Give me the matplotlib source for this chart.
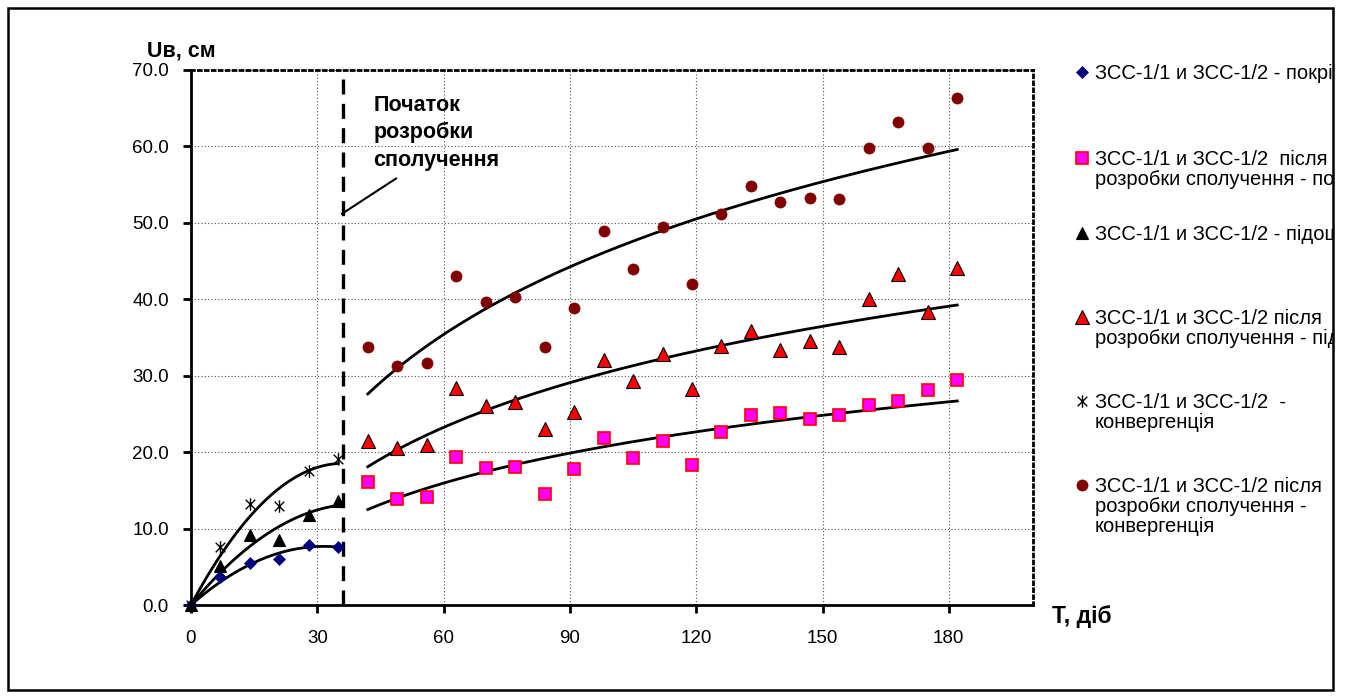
import numpy as np
import matplotlib.pyplot as plt
from matplotlib.lines import Line2D
from matplotlib.patches import Rectangle
from matplotlib.path import Path

plt.rcParams['font.family'] = ['Liberation Sans', 'DejaVu Sans']

# data (days, cm)
days_early = [0, 7, 14, 21, 28, 35]
roof_early = [0, 3.6, 5.5, 6.0, 7.9, 7.6]
floor_early = [0, 5.1, 9.1, 8.5, 11.8, 13.6]
conv_early = [0, 7.6, 13.2, 13.0, 17.5, 19.1]

days_late = [42, 49, 56, 63, 70, 77, 84, 91, 98, 105, 112, 119, 126, 133,
             140, 147, 154, 161, 168, 175, 182]
roof_late = [16.1, 13.9, 14.1, 19.4, 17.9, 18.1, 14.5, 17.8, 21.8, 19.2, 21.5,
             18.3, 22.7, 24.8, 25.1, 24.4, 24.8, 26.2, 26.7, 28.1, 29.5]
floor_late = [21.4, 20.6, 21.0, 28.4, 26.1, 26.5, 23.0, 25.3, 32.1, 29.3, 32.9,
              28.3, 33.9, 35.9, 33.3, 34.5, 33.7, 40.0, 43.3, 38.3, 44.1]
conv_late = [33.8, 31.3, 31.6, 43.1, 39.6, 40.3, 33.8, 38.9, 48.9, 44.0, 49.4,
             42.0, 51.2, 54.8, 52.7, 53.3, 53.1, 59.8, 63.2, 59.8, 66.4]

start_day = 36
x_ticks = [0, 30, 60, 90, 120, 150, 180]
y_ticks = [0, 10, 20, 30, 40, 50, 60, 70]

legend_labels = [
    'ЗСС-1/1 и ЗСС-1/2 - покрівля',
    'ЗСС-1/1 и ЗСС-1/2  після\nрозробки сполучення - покрівля',
    'ЗСС-1/1 и ЗСС-1/2 - підошва',
    'ЗСС-1/1 и ЗСС-1/2 після\nрозробки сполучення - підошва',
    'ЗСС-1/1 и ЗСС-1/2  -\nконвергенція',
    'ЗСС-1/1 и ЗСС-1/2 після\nрозробки сполучення -\nконвергенція',
]

# Excel "star" marker: an X with a vertical stroke
star = Path([(-1, -1), (1, 1), (-1, 1), (1, -1), (0, -1.3), (0, 1.3)],
            [Path.MOVETO, Path.LINETO] * 3)

styles = [
    dict(marker='D', ms=6.5, mfc='#000080', mec='#000080', mew=0.5),
    dict(marker='s', ms=8, mfc='#FF00FF', mec='#FF0000', mew=1.2),
    dict(marker='^', ms=9, mfc='black', mec='black', mew=0.8),
    dict(marker='^', ms=10, mfc='#FF0000', mec='black', mew=0.8),
    dict(marker=star, ms=9, mfc='none', mec='black', mew=1.0),
    dict(marker='o', ms=8, mfc='#800000', mec='#800000', mew=0.5),
]

W, H = 1346, 697
fig = plt.figure(figsize=(W / 100, H / 100), dpi=100)
ax = fig.add_axes([191 / W, 1 - 605 / H, (1033 - 191) / W, (605 - 70) / H])

series = [(days_early, roof_early), (days_late, roof_late),
          (days_early, floor_early), (days_late, floor_late),
          (days_early, conv_early), (days_late, conv_late)]
for (x, y), st in zip(series, styles):
    ax.plot(x, y, ls='none', clip_on=False, zorder=4, **st)

# trendlines: quadratic through origin before, logarithmic after
xe = np.array(days_early, float)
xs = np.linspace(0, 35, 100)
for y in (roof_early, floor_early, conv_early):
    A = np.column_stack([xe, xe ** 2])
    c = np.linalg.lstsq(A, np.array(y), rcond=None)[0]
    ax.plot(xs, c[0] * xs + c[1] * xs ** 2, color='black', lw=2, zorder=3)

xl = np.array(days_late, float)
xs = np.linspace(42, 182, 200)
for y in (roof_late, floor_late, conv_late):
    k, b = np.polyfit(np.log(xl), y, 1)
    ax.plot(xs, k * np.log(xs) + b, color='black', lw=2, zorder=3)

ax.axvline(start_day, color='black', lw=2.4, ls=(0, (4.5, 2.8)), zorder=3)
ax.plot([35.9, 48.7], [51.2, 55.8], color='black', lw=1.5)
ax.text(43.3, 61.8, 'Початок\nрозробки\nсполучення', fontsize=15.5,
        fontweight='bold', va='center', ha='left', linespacing=1.4)

ax.set_xlim(0, 200)
ax.set_ylim(0, 70)
ax.set_xticks(x_ticks)
ax.set_yticks(y_ticks)
ax.set_yticklabels(['%.1f' % v for v in y_ticks])
ax.tick_params(direction='out', length=6, width=2, labelsize=13.5)
ax.tick_params(axis='x', pad=12)
ax.tick_params(axis='y', pad=10)
ax.grid(True, color='#505050', ls=(0, (1, 2)), lw=0.8)
ax.set_axisbelow(True)
ax.spines['left'].set_linewidth(2)
ax.spines['bottom'].set_linewidth(2)
for s in ('top', 'right'):
    ax.spines[s].set_linestyle((0, (1, 1.5)))
    ax.spines[s].set_linewidth(2)

fig.text(147 / W, 1 - 57 / H, 'Uв, см', fontsize=15.5, fontweight='bold', va='baseline')
fig.text(1052 / W, 1 - 623 / H, 'Т, діб', fontsize=16.5, fontweight='bold', va='baseline')

# legend drawn by hand (the chart frame cuts it off on the right)
row_y = [72, 158, 233, 317, 401, 485]
for lab, st, y0 in zip(legend_labels, styles, row_y):
    m = Line2D([1082 / W], [1 - y0 / H], ls='none', transform=fig.transFigure, **st)
    fig.add_artist(m)
    for i, line in enumerate(lab.split('\n')):
        fig.text(1095 / W, 1 - (y0 + 7 + 20 * i) / H, line, fontsize=14.5, va='baseline')

fig.add_artist(Rectangle((1334 / W, 0), 12 / W, 1, transform=fig.transFigure,
                         facecolor='white', edgecolor='none', zorder=50))
fig.add_artist(Rectangle((8 / W, 1 - 690 / H), 1325 / W, 682 / H, transform=fig.transFigure,
                         facecolor='none', edgecolor='black', lw=1.8, zorder=51))

fig.savefig('out.png', dpi=100)
